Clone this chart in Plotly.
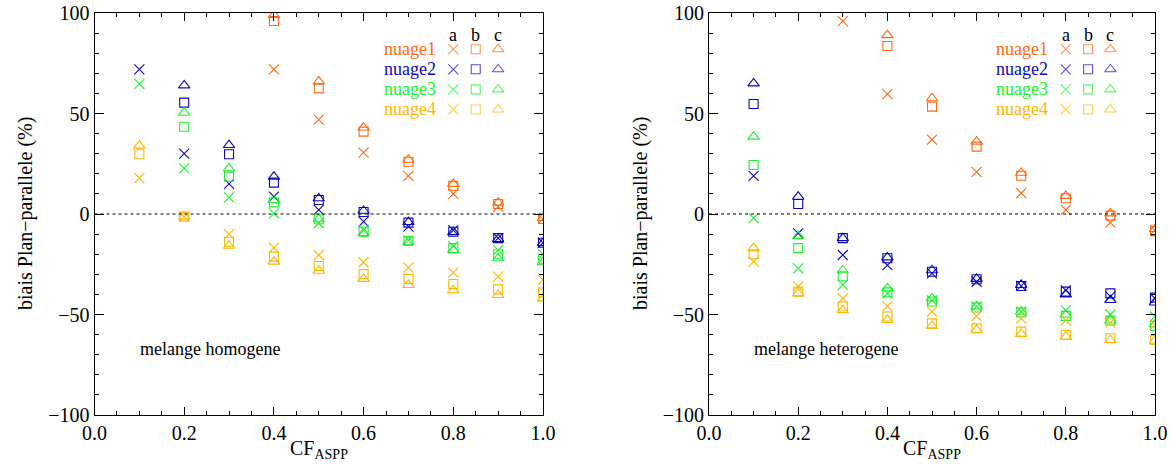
import plotly.graph_objects as go

# ---------------- data ----------------
cf = [0.1, 0.2, 0.3, 0.4, 0.5, 0.6, 0.7, 0.8, 0.9, 1.0]

# melange homogene (left panel)
hom_n1a = [None, None, None, 72, 47, 30.5, 19, 10, 3.6, -2.5]
hom_n1b = [None, None, None, 96, 62.5, 41, 26, 14, 5, -2.5]
hom_n1c = [None, None, None, 99, 66, 43, 27, 15, 5.6, -2]
hom_n2a = [72, 30, 15, 8.6, 2, -3.8, -6.3, -8, -12, -14.3]
hom_n2b = [None, 55.4, 29.7, 15.6, 7, 1, -4.3, -8.8, -12, -14.3]
hom_n2c = [None, 64, 34.3, 18.6, 7.8, 1.6, -4, -9, -12.5, -14.5]
hom_n3a = [64.7, 22.7, 8.3, 0.3, -4.6, -8, -13, -16, -18, -20]
hom_n3b = [None, 43.4, 18.6, 5.8, -2.6, -8.8, -13.4, -17, -20, -22.5]
hom_n3c = [None, 50.4, 22.7, 7, -2.6, -9.5, -13.8, -18, -22, -24]
hom_n4a = [17.8, -1.3, -10, -16.7, -20.4, -24, -26.7, -29.2, -31.2, -32.8]
hom_n4b = [29.7, -1.3, -13.8, -21.2, -25.9, -29.9, -32.3, -34.8, -37.5, -39]
hom_n4c = [34, -1.3, -15.8, -23.7, -28.2, -32.3, -35.3, -38, -40.3, -42]

# melange heterogene (right panel)
het_n1a = [None, None, 96, 59.6, 37, 21, 10.4, 2, -4.3, -8]
het_n1b = [None, None, None, 83.6, 53.4, 33.5, 19, 7.8, -0.8, -8.5]
het_n1c = [None, None, None, 89, 57.6, 36, 20.5, 9, 0.3, -7.5]
het_n2a = [19, -9.6, -20.4, -25.4, -29.5, -33.7, -35.8, -38, -41, -42]
het_n2b = [54.7, 5, -12, -22, -28.7, -32.5, -35.8, -38.6, -39.5, -41.6]
het_n2c = [65, 8.6, -12, -21.6, -28, -32.3, -35.3, -40, -42.8, -44]
het_n3a = [-2, -27, -35.3, -39.5, -43, -46, -48.6, -48, -50, -51]
het_n3b = [24.4, -17, -31, -39, -43.5, -46.5, -49, -50.7, -53, -55.7]
het_n3c = [38.5, -11, -28, -37, -42, -46, -48.6, -50, -53, -55]
het_n4a = [-23.7, -36, -42, -45.8, -48.6, -50.7, -51.9, -52.9, -54, -55]
het_n4b = [-20, -38.6, -46, -51, -54.4, -56.9, -58.5, -60.2, -61.8, -62.7]
het_n4c = [-17, -39.5, -47.8, -52.7, -55.7, -57.7, -59.7, -61, -62.7, -63]

series_names = ["nuage1", "nuage2", "nuage3", "nuage4"]
variant_labels = ["a", "b", "c"]
panel_labels = ["melange homogene", "melange heterogene"]
x_title = "CF<sub>ASPP</sub>"
y_title = "biais Plan\u2212parallele (%)"

# ---------------- styling ----------------
colors = ["#FF6A14", "#0A0AB4", "#22EE33", "#FFB800"]
symbols = ["x-thin-open", "square-open", "triangle-up-open"]
sizes = [10, 9, 10]
FONT = "Liberation Serif, Times New Roman, serif"

W, H = 1174, 466
top_px, bot_px = 13, 415
panels_px = [(94.5, 543), (709, 1155)]
ytitle_px = [26, 641]
xtitle_py = 449

hom = [[hom_n1a, hom_n1b, hom_n1c], [hom_n2a, hom_n2b, hom_n2c],
       [hom_n3a, hom_n3b, hom_n3c], [hom_n4a, hom_n4b, hom_n4c]]
het = [[het_n1a, het_n1b, het_n1c], [het_n2a, het_n2b, het_n2c],
       [het_n3a, het_n3b, het_n3c], [het_n4a, het_n4b, het_n4c]]

# legend placement (data coords of each panel)
leg_x = [0.80, 0.85, 0.90]
leg_y = [82, 72, 62, 52]
leg_head_y = 89
leg_label_x = 0.765

fig = go.Figure()
annotations = []
shapes = []

for p, data in enumerate([hom, het]):
    xa = "x" if p == 0 else "x2"
    ya = "y" if p == 0 else "y2"
    for i, rows in enumerate(data):
        for j, vals in enumerate(rows):
            fig.add_trace(go.Scatter(
                x=cf, y=vals, mode="markers", xaxis=xa, yaxis=ya,
                showlegend=False, hoverinfo="skip",
                marker=dict(symbol=symbols[j], size=sizes[j], color=colors[i],
                            line=dict(color=colors[i], width=1.1)),
            ))
    # legend markers
    for i in range(4):
        fig.add_trace(go.Scatter(
            x=leg_x, y=[leg_y[i]] * 3, mode="markers", xaxis=xa, yaxis=ya,
            showlegend=False, hoverinfo="skip",
            marker=dict(symbol=symbols, size=sizes, color=colors[i],
                        line=dict(color=colors[i], width=1.1)),
        ))
        annotations.append(dict(
            x=leg_label_x, y=leg_y[i], xref=xa, yref=ya, text=series_names[i],
            showarrow=False, xanchor="right", yanchor="middle",
            font=dict(family=FONT, size=18, color=colors[i])))
    for j in range(3):
        annotations.append(dict(
            x=leg_x[j], y=leg_head_y, xref=xa, yref=ya, text=variant_labels[j],
            showarrow=False, xanchor="center", yanchor="middle",
            font=dict(family=FONT, size=18, color="black")))
    annotations.append(dict(
        x=0.097, y=-67, xref=xa, yref=ya, text=panel_labels[p],
        showarrow=False, xanchor="left", yanchor="middle",
        font=dict(family=FONT, size=18, color="black")))
    # axis titles
    x0, x1 = panels_px[p]
    annotations.append(dict(
        x=(x0 + x1) / 2 / W, y=1 - xtitle_py / H, xref="paper", yref="paper",
        text=x_title, showarrow=False, xanchor="center", yanchor="middle",
        font=dict(family=FONT, size=20, color="black")))
    annotations.append(dict(
        x=ytitle_px[p] / W, y=1 - (top_px + bot_px) / 2 / H, xref="paper",
        yref="paper", text=y_title, textangle=-90, showarrow=False,
        xanchor="center", yanchor="middle",
        font=dict(family=FONT, size=20, color="black")))
    # dotted zero line
    shapes.append(dict(type="line", xref=xa, yref=ya, x0=0, x1=1, y0=0, y1=0,
                       line=dict(color="black", width=1, dash="dot")))

axis_common = dict(
    showline=True, linecolor="black", linewidth=1, mirror="ticks",
    ticks="inside", tickcolor="black", tickwidth=1, showgrid=False,
    zeroline=False, automargin=False,
    tickfont=dict(family=FONT, size=20, color="black"),
)

ydom = [1 - bot_px / H, 1 - top_px / H]
layout = dict(
    width=W, height=H, margin=dict(l=0, r=0, t=0, b=0),
    paper_bgcolor="white", plot_bgcolor="white",
    annotations=annotations, shapes=shapes, showlegend=False,
)
for p, (x0, x1) in enumerate(panels_px):
    sx = "" if p == 0 else "2"
    layout["xaxis" + sx] = dict(
        axis_common, domain=[x0 / W, x1 / W], range=[0, 1],
        tickvals=[0, 0.2, 0.4, 0.6, 0.8, 1.0],
        ticktext=["0.0", "0.2", "0.4", "0.6", "0.8", "1.0"], ticklen=8,
        minor=dict(dtick=0.05, tick0=0, ticklen=4, ticks="inside",
                   tickcolor="black", tickwidth=1, showgrid=False),
        anchor="y" + sx,
    )
    layout["yaxis" + sx] = dict(
        axis_common, domain=ydom, range=[-100, 100],
        tickvals=[-100, -50, 0, 50, 100],
        ticktext=["\u2212100", "\u221250", "0", "50", "100"], ticklen=9,
        minor=dict(dtick=10, tick0=0, ticklen=4, ticks="inside",
                   tickcolor="black", tickwidth=1, showgrid=False),
        anchor="x" + sx,
    )

fig.update_layout(**layout)
fig.write_html("out.html", config={"displayModeBar": False},
               post_script="document.body.style.margin='0px';")
